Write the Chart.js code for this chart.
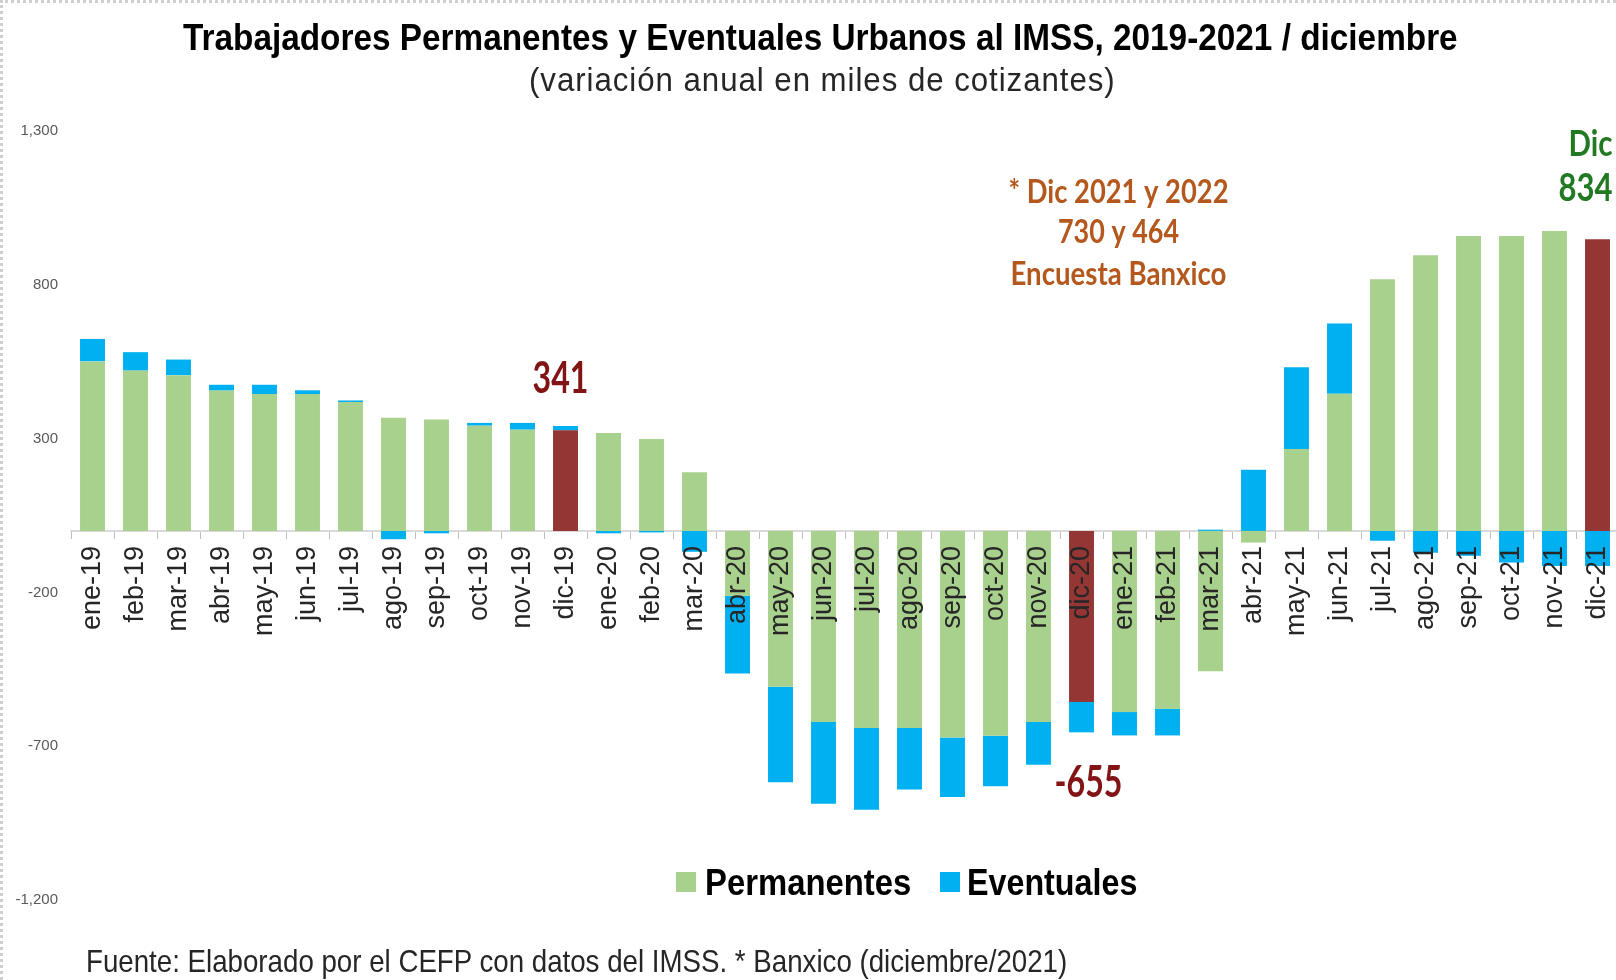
<!DOCTYPE html>
<html>
<head>
<meta charset="utf-8">
<title>Trabajadores Permanentes y Eventuales Urbanos al IMSS</title>
<script src="https://cdn.jsdelivr.net/npm/chart.js@4.4.0/dist/chart.umd.min.js"></script>
<style>
  html, body { margin: 0; padding: 0; background: #fff; overflow: hidden; }
  #wrap { position: relative; width: 1616px; height: 980px; overflow: hidden; background: #fff; }
  #grafica { position: absolute; left: 0; top: 0; }
  #marco { position: absolute; left: 0; top: 0; width: 1616px; height: 980px; box-sizing: border-box;
           border-top: 3px dotted #cfcfcf; border-left: 3px dotted #cfcfcf; pointer-events: none; }
  .txt { position: absolute; white-space: nowrap; line-height: 1; transform-origin: 0 50%;
         font-family: "Liberation Sans", Arial, sans-serif; }
  #titulo { font-size: 36px; font-weight: bold; color: #000; }
  #subtitulo { font-size: 33px; color: #262626; letter-spacing: 1px; }
  .ley { font-size: 37px; font-weight: bold; color: #000; }
  #fuente { font-size: 32px; color: #262626; }
  .cuadro { position: absolute; width: 20px; height: 20px; }
</style>
</head>
<body>
<div id="wrap">
  <canvas id="grafica" width="1625" height="980"></canvas>
  <div id="titulo" class="txt">Trabajadores Permanentes y Eventuales Urbanos al IMSS, 2019-2021 / diciembre</div>
  <div id="subtitulo" class="txt">(variación anual en miles de cotizantes)</div>
  <div id="cuadroPerm" class="cuadro" style="left:676px; top:872px;"></div>
  <div id="leyPerm" class="txt ley">Permanentes</div>
  <div id="cuadroEvent" class="cuadro" style="left:940px; top:872px;"></div>
  <div id="leyEvent" class="txt ley">Eventuales</div>
  <div id="fuente" class="txt">Fuente: Elaborado por el CEFP con datos del IMSS. * Banxico (diciembre/2021)</div>
  <div id="marco"></div>
</div>
<script>
// datos (miles de cotizantes, variacion anual)
var meses = ['ene-19', 'feb-19', 'mar-19', 'abr-19', 'may-19', 'jun-19', 'jul-19', 'ago-19', 'sep-19', 'oct-19', 'nov-19', 'dic-19',
             'ene-20', 'feb-20', 'mar-20', 'abr-20', 'may-20', 'jun-20', 'jul-20', 'ago-20', 'sep-20', 'oct-20', 'nov-20', 'dic-20',
             'ene-21', 'feb-21', 'mar-21', 'abr-21', 'may-21', 'jun-21', 'jul-21', 'ago-21', 'sep-21', 'oct-21', 'nov-21', 'dic-21'];
var permanentes = [551, 521, 506, 456, 445, 445, 419, 368, 362, 342, 329, 327,
                   318, 299, 191, -211, -507, -621, -641, -641, -672, -666, -621, -556,
                   -589, -578, -456, -38, 266, 446, 818, 896, 959, 959, 975, 948];
var eventuales = [73, 60, 51, 19, 30, 12, 5, -27, -8, 9, 22, 14,
                  -8, -5, -68, -253, -310, -266, -266, -200, -193, -164, -139, -99,
                  -76, -87, 4, 199, 266, 228, -32, -71, -81, -103, -114, -114];
var ticksY = [-1200, -700, -200, 300, 800, 1300];

var verde = '#a9d18e';
var azul = '#00b0f0';
var guinda = '#943634';

var coloresPerm = meses.map(function (m) { return m.indexOf('dic') === 0 ? guinda : verde; });

document.getElementById('cuadroPerm').style.background = verde;
document.getElementById('cuadroEvent').style.background = azul;

function texto(ctx, t, x, y, size, color, ancho, alinear) {
    ctx.save();
    ctx.font = 'bold ' + size + 'px Lato';
    var k = ancho / ctx.measureText(t).width;
    ctx.translate(x, y);
    ctx.scale(k, 1);
    ctx.fillStyle = color;
    ctx.textAlign = alinear || 'center';
    ctx.textBaseline = 'middle';
    ctx.fillText(t, 0, 0);
    ctx.restore();
}

// etiquetas sobre la grafica
var notas = {
    id: 'notas',
    afterDraw: function (chart) {
        var ctx = chart.ctx;
        var x = chart.scales.x;
        var y = chart.scales.y;
        texto(ctx, '341', x.getPixelForValue(11) - 5, y.getPixelForValue(492), 43, '#821416', 56);
        texto(ctx, '-655', x.getPixelForValue(23) + 7, y.getPixelForValue(-821), 43, '#821416', 68);
        var cx = x.getPixelForValue(24) - 6;
        texto(ctx, '* Dic 2021 y 2022', cx, y.getPixelForValue(1101), 32, '#b4581d', 220);
        texto(ctx, '730 y 464', cx, y.getPixelForValue(971), 32, '#b4581d', 121);
        texto(ctx, 'Encuesta Banxico', cx, y.getPixelForValue(834), 32, '#b4581d', 216);
        var dx = x.getPixelForValue(35);
        texto(ctx, 'Dic', dx - 29, y.getPixelForValue(1258), 37, '#217a21', 44, 'left');
        texto(ctx, '834', dx - 39, y.getPixelForValue(1111), 38, '#217a21', 54, 'left');
    }
};

var ctx = document.getElementById('grafica').getContext('2d');
var grafica = new Chart(ctx, {
    type: 'bar',
    data: {
        labels: meses,
        datasets: [{
            label: 'Permanentes',
            data: permanentes,
            backgroundColor: coloresPerm,
            categoryPercentage: 1,
            barPercentage: 0.58
        }, {
            label: 'Eventuales',
            data: eventuales,
            backgroundColor: azul,
            categoryPercentage: 1,
            barPercentage: 0.58
        }]
    },
    options: {
        responsive: false,
        animation: false,
        devicePixelRatio: 1,
        locale: 'en-US',
        layout: { padding: { top: 131, bottom: 80, left: 0, right: 6 } },
        plugins: {
            legend: { display: false },
            tooltip: { enabled: false }
        },
        scales: {
            x: {
                stacked: true,
                position: { y: 0 },
                afterFit: function (scale) {
                    scale.height = 0;
                    scale.paddingLeft = 0;
                    scale.paddingRight = 0;
                },
                grid: {
                    drawOnChartArea: false,
                    drawTicks: true,
                    tickLength: 7,
                    tickColor: '#bfbfbf',
                    offset: true
                },
                border: { display: true, color: '#d9d9d9', width: 2 },
                ticks: {
                    z: 1,
                    autoSkip: false,
                    minRotation: 90,
                    maxRotation: 90,
                    padding: 8,
                    color: '#262626',
                    font: { family: 'Liberation Sans', size: 27 }
                }
            },
            y: {
                stacked: true,
                min: -1200,
                max: 1300,
                afterFit: function (scale) { scale.width = 71; },
                afterBuildTicks: function (scale) {
                    scale.ticks = ticksY.map(function (v) { return { value: v }; });
                },
                grid: { display: false, drawTicks: false },
                border: { display: false },
                ticks: {
                    padding: 13,
                    color: '#595959',
                    font: { family: 'Liberation Sans', size: 15 }
                }
            }
        }
    },
    plugins: [notas]
});

function ajustar(id, izq, ancho, centroY) {
    var el = document.getElementById(id);
    var k = ancho / el.offsetWidth;
    el.style.left = izq + 'px';
    el.style.top = (centroY - el.offsetHeight / 2) + 'px';
    el.style.transform = 'scaleX(' + k + ')';
}
ajustar('titulo', 183, 1275, 38);
ajustar('subtitulo', 529, 587, 79);
ajustar('leyPerm', 705, 206, 882);
ajustar('leyEvent', 967, 170, 882);
ajustar('fuente', 86, 981, 961);
</script>
</body>
</html>
